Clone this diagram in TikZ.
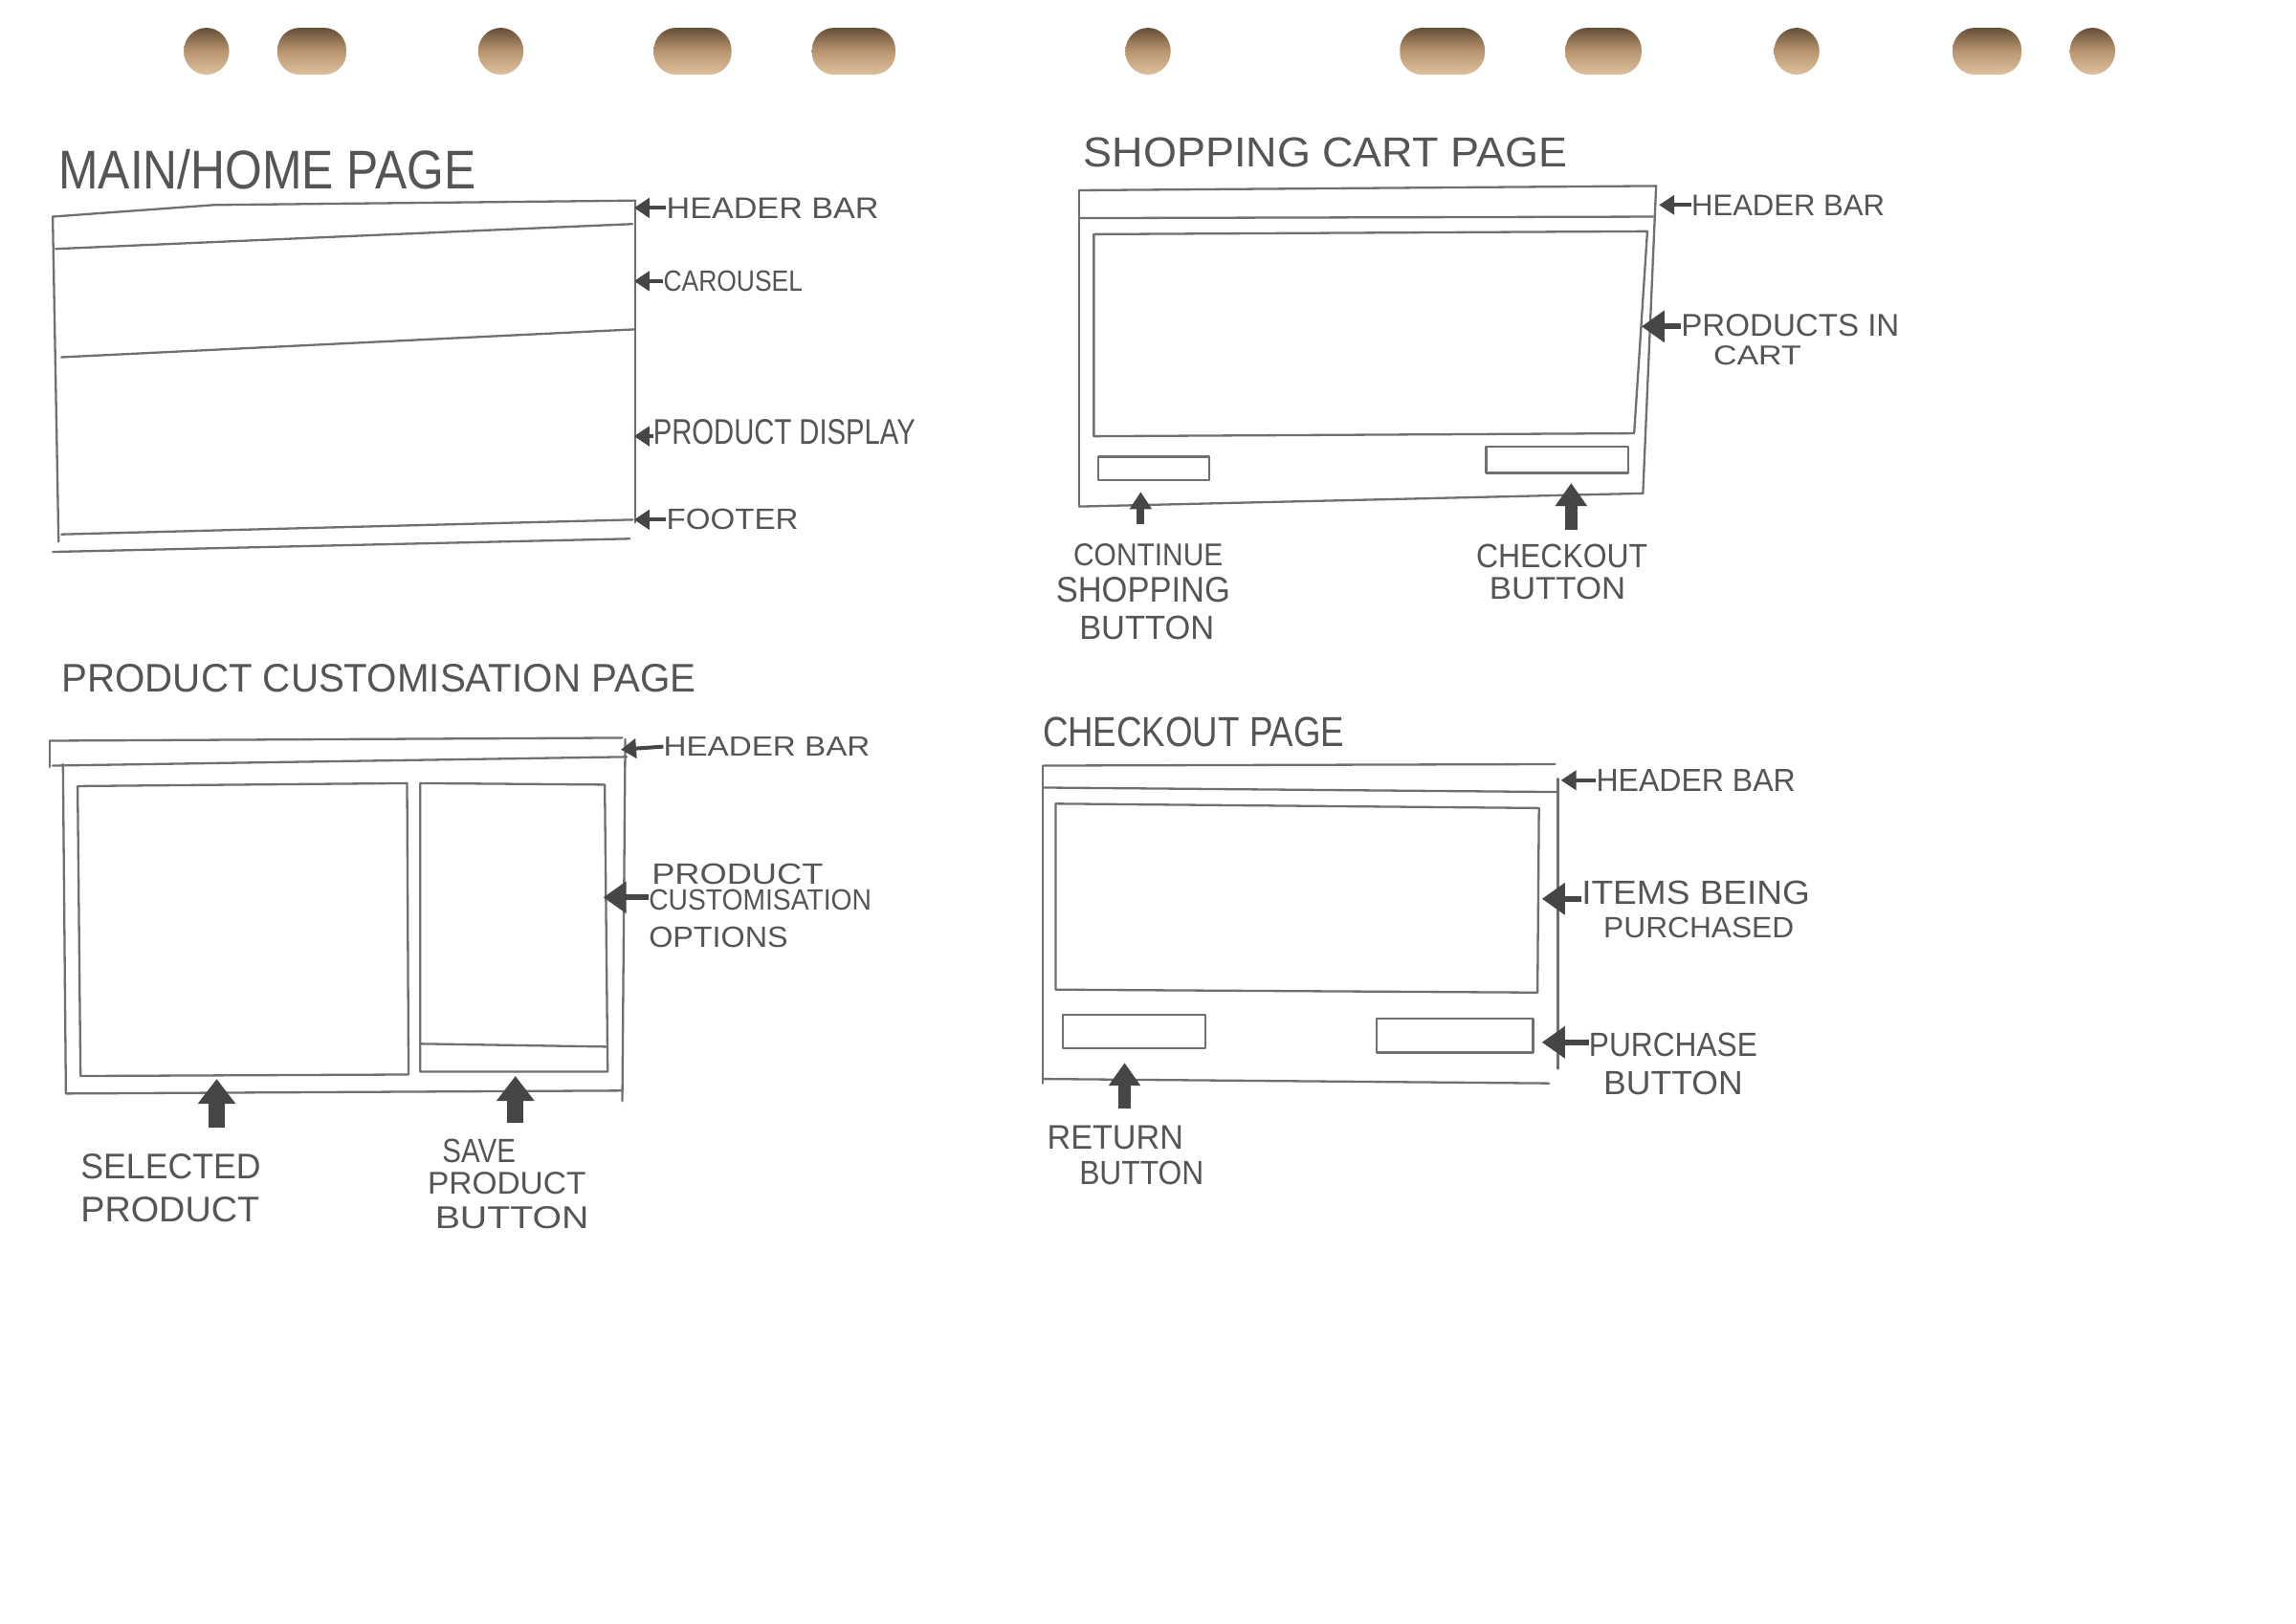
\documentclass[tikz,border=0pt]{standalone}
\usepackage{fontspec}
\setsansfont{Liberation Sans}
\usetikzlibrary{arrows.meta}
\definecolor{pen}{RGB}{112,112,112}
\definecolor{ink}{RGB}{85,85,85}
\definecolor{arrc}{RGB}{70,70,70}
\definecolor{holetop}{RGB}{100,78,55}
\definecolor{holemid}{RGB}{185,150,112}
\definecolor{holebot}{RGB}{222,192,158}
\newcommand{\hw}[3]{\resizebox{\dimexpr #1pt*15306/10000\relax}{\dimexpr #2pt*15306/10000\relax}{\sffamily #3}}
\begin{document}
\begin{tikzpicture}[x=1.5306pt,y=-1.5306pt,
  pen/.style={draw=pen,line width=2.3pt,line cap=round,line join=round},
  lbl/.style={text=ink,inner sep=0pt,anchor=west},
  ptr/.style={draw=arrc,line width=4pt,-{Triangle[length=16pt,width=20pt]}},
  bigptr/.style={draw=arrc,line width=6pt,-{Triangle[length=24pt,width=32pt]}},
  uparr/.style={draw=arrc,line width=17pt,-{Triangle[length=26pt,width=38pt]}},
  midup/.style={draw=arrc,line width=13pt,-{Triangle[length=24pt,width=32pt]}},
  thinup/.style={draw=arrc,line width=8pt,-{Triangle[length=18pt,width=22pt]}},
  hole/.style={top color=holetop,bottom color=holebot,middle color=holemid,draw=none}]
\useasboundingbox[fill=white] (0,0) rectangle (1568,1109);

% punched holes
\foreach \x in {141,342,784,1227,1429}
  \shade[hole] (\x,35) ellipse [x radius=15.5, y radius=16];
\foreach \x/\w in {213/23.5,473/26.5,583/28.5,985/29,1095/26,1357/23.5}
  \shade[hole,rounded corners=23pt] (\x-\w,19) rectangle (\x+\w,51);

% ---------------- MAIN / HOME PAGE ----------------
\node[lbl] (tmain) at (40,116) {\hw{285}{27}{MAIN/HOME PAGE}};
\draw[pen] (36,148) -- (146,140) -- (434,137);
\draw[pen] (36,148) -- (40,370);
\draw[pen] (434,137) -- (434,357);
\draw[pen] (38,170) -- (432,153);
\draw[pen] (42,244) -- (433,225);
\draw[pen] (42,365) -- (432,355);
\draw[pen] (36,377) -- (430,368);
\coordinate (mhbt) at (433,142);
\coordinate (mcat) at (433,192);
\coordinate (mpdt) at (433,298);
\coordinate (mftt) at (433,355);
\node[lbl] (mhb) at (455,142) {\hw{145}{14}{HEADER BAR}};
\node[lbl] (mca) at (453,192) {\hw{95}{14}{CAROUSEL}};
\node[lbl] (mpd) at (446,295) {\hw{179}{17}{PRODUCT DISPLAY}};
\node[lbl] (mft) at (455,355) {\hw{90}{14}{FOOTER}};
\draw[ptr] (mhb.west) -- (mhbt);
\draw[ptr] (mca.west) -- (mcat);
\draw[ptr] (mpd.west |- mpdt) -- (mpdt);
\draw[ptr] (mft.west) -- (mftt);

% ---------------- SHOPPING CART PAGE ----------------
\node[lbl] (tcart) at (740,104) {\hw{330}{20}{SHOPPING CART PAGE}};
\draw[pen] (737,130) -- (1131,127);
\draw[pen] (737,130) -- (737,346);
\draw[pen] (1131,127) -- (1122,337);
\draw[pen] (737,346) -- (1122,337);
\draw[pen] (737,149) -- (1129,148);
\draw[pen] (747,160) -- (1125,158) -- (1116,296) -- (747,298) -- cycle;
\draw[pen] (750,312) rectangle (826,328);
\draw[pen] (1015,305) rectangle (1112,323);
\coordinate (chbt) at (1133,140);
\coordinate (cpit) at (1121,223);
\coordinate (ccss) at (779,358);
\coordinate (ccst) at (779,336);
\coordinate (ccos) at (1073,362);
\coordinate (ccot) at (1073,330);
\node[lbl] (chb) at (1155,140) {\hw{132}{14}{HEADER BAR}};
\node[lbl] (cpi) at (1148,222) {\hw{149}{15}{PRODUCTS IN}};
\node[lbl] (cct) at (1170,243) {\hw{60}{13}{CART}};
\node[lbl] (ccs1) at (733,379) {\hw{102}{15}{CONTINUE}};
\node[lbl] (ccs2) at (721,403) {\hw{119}{17}{SHOPPING}};
\node[lbl] (ccs3) at (737,429) {\hw{92}{16}{BUTTON}};
\node[lbl] (cco1) at (1008,380) {\hw{117}{16}{CHECKOUT}};
\node[lbl] (cco2) at (1017,402) {\hw{93}{15}{BUTTON}};
\draw[ptr] (chb.west) -- (chbt);
\draw[bigptr] (cpi.west |- cpit) -- (cpit);
\draw[thinup] (ccss) -- (ccst);
\draw[midup] (ccos) -- (ccot);

% ---------------- PRODUCT CUSTOMISATION PAGE ----------------
\node[lbl] (tcus) at (42,463) {\hw{433}{19}{PRODUCT CUSTOMISATION PAGE}};
\draw[pen] (34,506) -- (425,504);
\draw[pen] (34,506) -- (34,524);
\draw[pen] (36,523) -- (428,517);
\draw[pen] (43,522) -- (45,747) -- (425,745);
\draw[pen] (427,505) -- (425,752);
\draw[pen] (53,537) -- (278,535) -- (279,734) -- (55,735) -- cycle;
\draw[pen] (287,535) -- (413,536) -- (415,732) -- (287,732) -- cycle;
\draw[pen] (287,713) -- (414,715);
\coordinate (uhbt) at (424,512);
\coordinate (uopt) at (412,613);
\coordinate (usps) at (148,770);
\coordinate (uspt) at (148,737);
\coordinate (usvs) at (352,767);
\coordinate (usvt) at (352,735);
\node[lbl] (uhb) at (453,510) {\hw{141}{13}{HEADER BAR}};
\node[lbl] (uop1) at (445,597) {\hw{117}{14}{PRODUCT}};
\node[lbl] (uop2) at (443,615) {\hw{152}{14}{CUSTOMISATION}};
\node[lbl] (uop3) at (443,640) {\hw{95}{14}{OPTIONS}};
\node[lbl] (usp1) at (55,797) {\hw{123}{17}{SELECTED}};
\node[lbl] (usp2) at (55,826) {\hw{122}{17}{PRODUCT}};
\node[lbl] (usv1) at (302,786) {\hw{50}{16}{SAVE}};
\node[lbl] (usv2) at (292,808) {\hw{108}{15}{PRODUCT}};
\node[lbl] (usv3) at (297,832) {\hw{105}{15}{BUTTON}};
\draw[ptr] (uhb.west) -- (uhbt);
\draw[bigptr] (uop2.west |- uopt) -- (uopt);
\draw[uparr] (usps) -- (uspt);
\draw[uparr] (usvs) -- (usvt);

% ---------------- CHECKOUT PAGE ----------------
\node[lbl] (tchk) at (712,500) {\hw{206}{20}{CHECKOUT PAGE}};
\draw[pen] (713,523) -- (1062,522);
\draw[pen] (712,523) -- (712,740);
\draw[pen] (713,538) -- (1063,541);
\draw[pen] (1064,532) -- (1064,730);
\draw[pen] (712,737) -- (1058,740);
\draw[pen] (721,549) -- (1051,552) -- (1050,678) -- (721,676) -- cycle;
\draw[pen] (726,693) rectangle (823,716);
\draw[pen] (940,696) rectangle (1047,719);
\coordinate (khbt) at (1066,533);
\coordinate (kitt) at (1053,614);
\coordinate (kpbt) at (1053,712);
\coordinate (kres) at (768,757);
\coordinate (kret) at (768,726);
\node[lbl] (khb) at (1090,533) {\hw{136}{15}{HEADER BAR}};
\node[lbl] (kit1) at (1080,610) {\hw{156}{16}{ITEMS BEING}};
\node[lbl] (kit2) at (1095,634) {\hw{130}{14}{PURCHASED}};
\node[lbl] (kpb1) at (1085,714) {\hw{115}{16}{PURCHASE}};
\node[lbl] (kpb2) at (1095,740) {\hw{95}{16}{BUTTON}};
\node[lbl] (kre1) at (715,777) {\hw{93}{16}{RETURN}};
\node[lbl] (kre2) at (737,801) {\hw{85}{16}{BUTTON}};
\draw[ptr] (khb.west) -- (khbt);
\draw[bigptr] (kit1.west |- kitt) -- (kitt);
\draw[bigptr] (kpb1.west |- kpbt) -- (kpbt);
\draw[midup] (kres) -- (kret);
\end{tikzpicture}
\end{document}
